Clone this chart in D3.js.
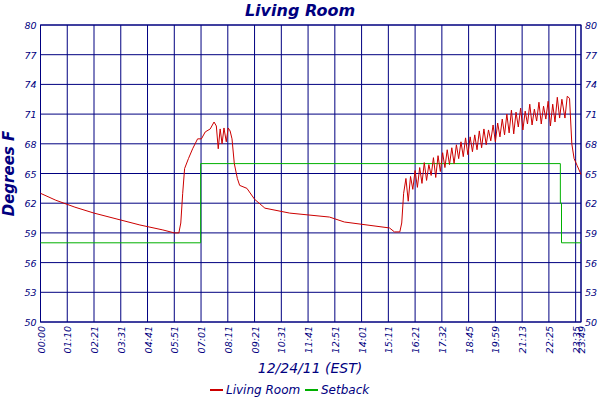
<!DOCTYPE html>
<html><head><meta charset="utf-8">
<script src="https://cdn.jsdelivr.net/npm/d3@7"></script>
<style>
body{margin:0;background:#fff;}
text{font-family:"DejaVu Sans",sans-serif;font-style:italic;fill:#000080;}
</style></head><body>
<svg id="chart" width="600" height="400"></svg>
<script>
// x positions are sample indices (roughly minutes); tick labels are the times shown
const tickIdx = [0,70,140,210,280,350,420,490,560,630,700,770,840,910,980,1050,1120,1190,1260,1330,1400,1414];
const tickLabels = ["00:00","01:10","02:21","03:31","04:41","05:51","07:01","08:11","09:21","10:31","11:41","12:51","14:01","15:11","16:21","17:32","18:45","19:59","21:13","22:25","23:35","23:49"];
const yTicks = [50,53,56,59,62,65,68,71,74,77,80];

const roomHead = [[0,63.0],[40,62.3],[90,61.6],[140,61.0],[200,60.4],[260,59.8],[320,59.3],[350,59.0],[362,59.0],
  [367,60.0],[372,63.0],[377,65.5],[387,66.5],[398,67.5],[411,68.5],[421,68.5],[431,69.2],[444,69.5],[454,70.2],
  [460,69.8],[465,67.5],[470,69.5],[475,68.0],[480,69.6],[486,68.2],[491,69.6],[496,69.3],[501,68.5],[507,66.0],
  [515,64.5],[521,63.8],[540,63.5],[560,62.4],[587,61.5],[652,61.0],[756,60.6],[795,60.1],[913,59.5],[926,59.1],
  [940,59.1],[945,60.0]];
const roomCycles = [[63.0,64.5],[62.2,64.7],[63.4,65.3],[63.6,65.6],[64.0,66.1],[64.3,65.9],[64.8,66.6],[64.6,66.8],
  [65.2,67.1],[65.6,67.4],[65.9,67.6],[66.0,67.9],[66.5,68.2],[66.7,68.6],[66.9,68.7],[67.2,68.9],[67.4,69.3],
  [67.6,69.5],[67.9,69.4],[68.3,69.9],[68.2,70.1],[68.7,70.5],[68.9,71.0],[69.1,71.4],[69.0,71.2],[69.7,71.6],
  [69.4,71.3],[70.0,72.0],[69.9,71.5],[70.3,72.2],[70.0,71.8],[70.5,72.3],[69.8,72.0],[70.2,72.7],[70.6,72.5]];
const roomTail = [[1372,70.6],[1378,72.8],[1384,72.6],[1390,68.0],[1396,66.5],[1404,65.8],[1414,64.9]];
const setback = [[0,58],[419,58],[419,66],[1360,66],[1360,62],[1363,62],[1363,58],[1414,58]];

const room = roomHead.slice();
roomCycles.forEach((c,i)=>{ room.push([950+i*12,c[0]]); room.push([956+i*12,c[1]]); });
roomTail.forEach(p=>room.push(p));

const svg = d3.select('#chart');
const L=40.5, R=581, T=25, B=322;
const x = d3.scaleLinear().domain([0,1414]).range([L,R]);
const y = d3.scaleLinear().domain([50,80]).range([B,T]);
const navy = '#000080';

const grid = svg.append('g').attr('stroke',navy).attr('stroke-width',1);
grid.selectAll('.h').data(yTicks).join('line')
  .attr('x1',L).attr('x2',R).attr('y1',d=>y(d)).attr('y2',d=>y(d));
grid.selectAll('.v').data(tickIdx).join('line')
  .attr('y1',T).attr('y2',B).attr('x1',d=>x(d)).attr('x2',d=>x(d));
svg.append('rect').attr('x',L).attr('y',T).attr('width',R-L).attr('height',B-T)
  .attr('fill','none').attr('stroke',navy);

svg.append('g').selectAll('text').data(yTicks).join('text')
  .attr('x',L-4).attr('y',d=>y(d)+4).attr('text-anchor','end').attr('font-size',9.5).text(d=>d);
svg.append('g').selectAll('text').data(yTicks).join('text')
  .attr('x',R+4).attr('y',d=>y(d)+4).attr('font-size',9.5).text(d=>d);

svg.append('g').selectAll('text').data(tickIdx).join('text')
  .attr('transform',(d,i)=>`translate(${x(d)+4},${B+4}) rotate(-90)`)
  .attr('text-anchor','end').attr('font-size',9.5).text((d,i)=>tickLabels[i]);

const line = d3.line().x(d=>x(d[0])).y(d=>y(d[1]));
svg.append('path').attr('d',line(setback)).attr('fill','none').attr('stroke','#00b000').attr('stroke-width',1);
svg.append('path').attr('d',line(room)).attr('fill','none').attr('stroke','#cc0000').attr('stroke-width',1);

svg.append('text').attr('x',300).attr('y',16).attr('text-anchor','middle')
  .attr('font-size',16).attr('font-weight','bold').text('Living Room');
svg.append('text').attr('transform',`translate(14,${(T+B)/2}) rotate(-90)`).attr('text-anchor','middle')
  .attr('font-size',15).attr('font-weight','bold').text('Degrees F');
svg.append('text').attr('x',310).attr('y',373).attr('text-anchor','middle').attr('font-size',14).text('12/24/11 (EST)');

const lg = svg.append('g');
lg.append('line').attr('x1',210).attr('x2',223).attr('y1',390).attr('y2',390).attr('stroke','#cc0000').attr('stroke-width',2);
lg.append('text').attr('x',226).attr('y',394).attr('font-size',12).text('Living Room');
lg.append('line').attr('x1',305).attr('x2',318).attr('y1',390).attr('y2',390).attr('stroke','#00b000').attr('stroke-width',2);
lg.append('text').attr('x',321).attr('y',394).attr('font-size',12).text('Setback');
</script></body></html>
